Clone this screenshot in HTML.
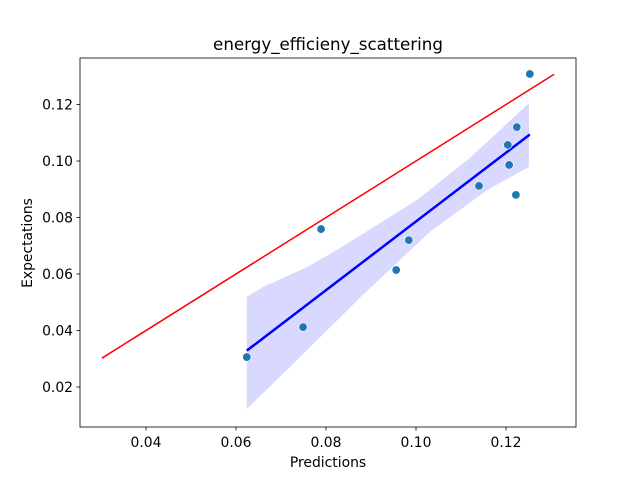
<!DOCTYPE html>
<html><head><meta charset="utf-8"><style>
body{margin:0;background:#fff}
svg text{font-family:"DejaVu Sans","Liberation Sans",sans-serif;fill:#000}
</style></head><body>
<svg id="chart" width="640" height="480" xmlns="http://www.w3.org/2000/svg">
<rect width="640" height="480" fill="#fff"/>
<g id="plot"></g>
<rect x="80" y="58" width="496" height="369" fill="none" stroke="#000" stroke-width="0.8"/>
<g id="ticks"></g>
<text x="328" y="50" font-size="16.7" text-anchor="middle">energy_efficieny_scattering</text>
<text x="328" y="467" font-size="13.9" text-anchor="middle">Predictions</text>
<text transform="translate(32,243) rotate(-90)" font-size="13.9" text-anchor="middle">Expectations</text>
</svg>
<script>
const predictions=[0.0624,0.0749,0.0789,0.0956,0.0984,0.1140,0.1204,0.1207,0.1224,0.1222,0.1253];
const expectations=[0.0306,0.0412,0.0759,0.0614,0.0720,0.0912,0.1057,0.0986,0.1120,0.0880,0.1308];
const bandUpperX=[0.0624,0.0660,0.0758,0.0824,0.0913,0.1002,0.1120,0.1251];
const bandUpperY=[0.0519,0.0554,0.0625,0.0685,0.0773,0.0862,0.1011,0.1205];
const bandLowerX=[0.0624,0.0736,0.0882,0.1031,0.1158,0.1251];
const bandLowerY=[0.0122,0.0296,0.0526,0.0749,0.0897,0.0979];
const identityRange=[0.0302,0.1307];
const xTicks=[0.04,0.06,0.08,0.10,0.12];
const yTicks=[0.02,0.04,0.06,0.08,0.10,0.12];
const xTickLabels=["0.04","0.06","0.08","0.10","0.12"];
const yTickLabels=["0.02","0.04","0.06","0.08","0.10","0.12"];

const X=v=>146+(v-0.04)*4500;
const Y=v=>387-(v-0.02)*2825;
const NS="http://www.w3.org/2000/svg";
const plot=document.getElementById('plot');
const ticks=document.getElementById('ticks');
function mk(tag,attrs,parent){const e=document.createElementNS(NS,tag);for(const k in attrs)e.setAttribute(k,attrs[k]);parent.appendChild(e);return e;}

let pts=bandUpperX.map((x,i)=>X(x)+','+Y(bandUpperY[i]));
for(let i=bandLowerX.length-1;i>=0;i--)pts.push(X(bandLowerX[i])+','+Y(bandLowerY[i]));
const band=mk('polygon',{points:pts.join(' '),fill:'#0000ff',opacity:'0.15'},plot);



const idl=mk('line',{x1:X(identityRange[0]),y1:Y(identityRange[0]),x2:X(identityRange[1]),y2:Y(identityRange[1]),stroke:'#ff0000','stroke-width':1.5},plot);



const n=predictions.length;
const mx=predictions.reduce((a,b)=>a+b)/n,my=expectations.reduce((a,b)=>a+b)/n;
let sxy=0,sxx=0;for(let i=0;i<n;i++){sxy+=(predictions[i]-mx)*(expectations[i]-my);sxx+=(predictions[i]-mx)**2;}
const b=sxy/sxx,a=my-b*mx;
const x0=Math.min(...predictions),x1=Math.max(...predictions);
const reg=mk('line',{x1:X(x0),y1:Y(a+b*x0),x2:X(x1),y2:Y(a+b*x1),stroke:'#0000ff','stroke-width':2.5},plot);



for(let i=0;i<n;i++){
 const c=mk('circle',{cx:X(predictions[i]),cy:Y(expectations[i]),r:4.2,fill:'#1f77b4',stroke:'#fff','stroke-width':0.6},plot);
 
 
}

xTicks.forEach((t,i)=>{
 const l=mk('line',{x1:X(t),y1:427,x2:X(t),y2:430.5,stroke:'#000','stroke-width':0.8},ticks);
 
 
 const tx=mk('text',{x:X(t),y:447,'font-size':13.9,'text-anchor':'middle'},ticks);
 tx.textContent=xTickLabels[i];
 
 
});
yTicks.forEach((t,i)=>{
 const l=mk('line',{x1:76.5,y1:Y(t),x2:80,y2:Y(t),stroke:'#000','stroke-width':0.8},ticks);
 
 
 const tx=mk('text',{x:73,y:Y(t)+5,'font-size':13.9,'text-anchor':'end'},ticks);
 tx.textContent=yTickLabels[i];
 
 
});
</script>
</body></html>
